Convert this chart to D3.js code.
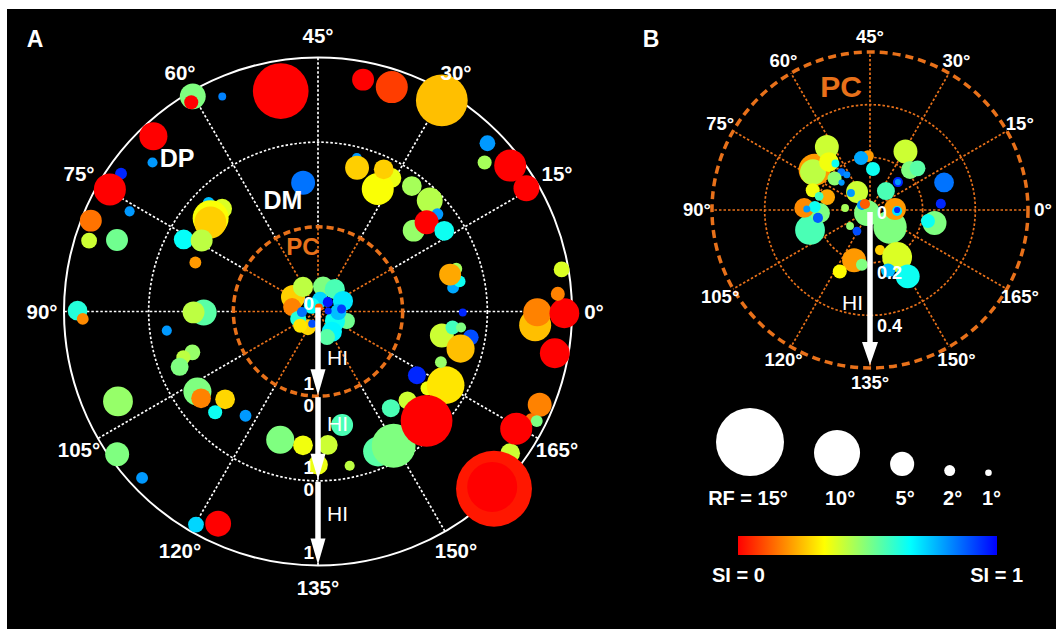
<!DOCTYPE html>
<html>
<head>
<meta charset="utf-8">
<script src="https://cdn.jsdelivr.net/npm/d3@7"></script>
<style>
    body { margin: 0; background: #fff; }
    svg { display: block; font-family: "Liberation Sans", Arial, sans-serif; }
</style>
</head>
<body>
<div id="chart"></div>
<script>

// each cell: [orientation (deg), HI, RF (deg), SI]
const dpCells = [
    [49.8, 0.64, 12.2, 0], [60.1, 0.94, 5.4, 0.5], [60.6, 0.89, 2.7, 0], [57, 0.78, 1.3, 0.83],
    [66.6, 0.84, 5.9, 0], [69, 0.63, 1.8, 0.8], [72.5, 0.84, 2.2, 0.95], [74.8, 0.85, 6.8, 0],
    [76, 0.52, 1.8, 0.8], [79.1, 0.89, 4.5, 0.15], [81.4, 0.83, 3.1, 0.4], [80.2, 0.52, 4.5, 0.52],
    [89.9, 0.84, 4.0, 0.62], [90.9, 0.78, 2.2, 0.18], [102.1, 0.59, 6.3, 0.47], [107.7, 0.91, 4.95, 0.5],
    [111.7, 0.86, 2.2, 0.8], [120.1, 0.90, 3.1, 0.72], [122.4, 0.77, 5.4, 0], [161.8, 0.82, 4.0, 0.4],
    [157.4, 0.95, 16.8, 0.03], [157.4, 0.92, 10.9, 0], [168.6, 0.84, 4.95, 0.17], [166.6, 0.82, 2.2, 0.15],
    [166.7, 0.89, 2.2, 0.5], [164.7, 0.72, 6.8, 0], [175, 0.84, 6.3, 0], [178.2, 0.57, 6.8, 0.25],
    [179.9, 0.59, 5.9, 0.17], [179.8, 0.91, 6.3, 0], [2.1, 0.84, 2.7, 0.17], [4.9, 0.92, 3.1, 0.38],
    [15.3, 0.86, 5.4, 0], [18.6, 0.85, 6.8, 0], [20.9, 0.64, 2.7, 0.45], [22.4, 0.82, 3.1, 0.8],
    [29.8, 0.89, 11.3, 0.25], [35.9, 0.79, 6.8, 0.08], [39.5, 0.79, 4.5, 0]
]

const dmCells = [
    [48.3, 0.53, 4.95, 0.85], [67.6, 0.82, 2.2, 0.75], [66.5, 0.66, 4.0, 0.38], [69.5, 0.68, 7.7, 0.34],
    [70.2, 0.65, 6.8, 0.27], [75.9, 0.80, 4.0, 0.66], [74.3, 0.61, 4.5, 0.42], [79.1, 0.56, 2.2, 0.2],
    [90.25, 0.35, 5.4, 0.55], [90.2, 0.47, 4.5, 0.42], [93.6, 0.80, 1.8, 0.8], [99, 0.56, 3.1, 0.47],
    [99.4, 0.68, 2.7, 0.42], [100.9, 0.76, 3.6, 0.5], [106.8, 0.71, 5.9, 0.5], [108.3, 0.72, 4.0, 0.17],
    [111.7, 0.51, 4.0, 0.28], [112.2, 0.70, 2.7, 0.65], [117.6, 0.50, 2.2, 0.8], [126.8, 0.58, 5.9, 0.5],
    [131.8, 0.59, 4.0, 0.35], [137.1, 0.58, 4.0, 0.4], [135, 0.81, 4.0, 0.36], [141, 0.37, 4.5, 0.57],
    [140.8, 0.86, 1.8, 0.42], [146.6, 0.80, 6.3, 0.55], [149.7, 0.82, 9.5, 0.5], [153.5, 0.43, 3.6, 0.57],
    [157.6, 0.49, 3.6, 0.4], [162.5, 0.58, 2.7, 0.35], [165, 0.74, 8.1, 0.3], [157.4, 0.82, 11.3, 0],
    [163.6, 0.39, 3.6, 0.95], [168.8, 0.57, 2.2, 0.47], [174.5, 0.49, 4.95, 0.4], [176.6, 0.60, 2.7, 0.58],
    [176.8, 0.70, 1.8, 0.5], [175.2, 0.83, 3.1, 0.9], [172.7, 0.74, 5.9, 0.25], [179.8, 0.71, 1.3, 0.95],
    [8.6, 0.71, 2.2, 0.45], [5, 0.62, 2.2, 0.78], [6, 0.71, 2.2, 0.65], [7.8, 0.62, 4.5, 0.22],
    [37.9, 0.87, 1.8, 0.8], [30.6, 0.80, 4.0, 0.36], [32, 0.61, 6.8, 0.34], [37.4, 0.76, 4.95, 0.27],
    [32.6, 0.85, 4.0, 0.27], [26.6, 0.85, 4.0, 0.45], [22.4, 0.86, 5.4, 0.43], [19.6, 0.82, 2.2, 0.8],
    [20.1, 0.48, 4.5, 0.47], [19.7, 0.66, 4.95, 0], [16.3, 0.77, 4.0, 0.65]
]

const pcCells = [
    [75, 0.34, 5.0, 0.27], [85.1, 0.31, 3.6, 0.17], [60.7, 0.34, 4.1, 0.42], [39.2, 0.30, 4.1, 0.5],
    [26.5, 0.33, 4.1, 0.57], [11.4, 0.32, 4.1, 0.7], [170.9, 0.36, 3.15, 0.52], [165.4, 0.23, 4.1, 0.65],
    [152.2, 0.29, 4.1, 0.68], [144.7, 0.32, 3.15, 0.55], [118.6, 0.22, 3.15, 0.28], [100.3, 0.25, 3.15, 0.62],
    [40, 0.14, 3.15, 0.72], [179.3, 0.24, 3.15, 0.75], [68.8, 0.10, 3.15, 0.66], [109.4, 0.27, 2.7, 0.3],
    [3, 0.28, 1.55, 0.92], [91, 0.19, 1.8, 0.85], [122.2, 0.16, 1.3, 0.9], [21.8, 0.16, 1.8, 0.97],
    [1.4, 0.12, 1.1, 0.95], [38.7, 0.05, 1.3, 0.12]
]

const pcZoomCells = [
    [72, 0.26, 6.8, 0.2], [62.2, 0.29, 4.95, 0.4], [73.2, 0.26, 5.4, 0.42], [65.3, 0.24, 4.0, 0.35],
    [63.3, 0.22, 1.3, 0.65], [63.6, 0.18, 1.3, 0.85], [61.7, 0.16, 1.1, 0.82], [69.2, 0.18, 2.7, 0.48],
    [68, 0.15, 0.9, 0.8], [81.6, 0.17, 3.1, 0.22], [80.5, 0.23, 2.7, 0.35], [82.5, 0.20, 1.5, 0.58],
    [99.2, 0.24, 6.3, 0.57], [91.7, 0.19, 4.0, 0.5], [89.1, 0.25, 4.0, 0.18], [88.4, 0.21, 2.2, 0.65],
    [89.5, 0.24, 1.1, 0.8], [94.3, 0.20, 1.8, 0.88], [62.9, 0.084, 4.5, 0.4], [69.1, 0.097, 1.3, 0.8],
    [87.7, 0.095, 1.3, 0.45], [109.3, 0.097, 1.3, 0.48], [119.1, 0.094, 1.5, 0.9], [112.5, 0.016, 5.4, 0.5],
    [74, 0.036, 1.8, 0.8], [64.9, 0.03, 1.8, 0.12], [46.1, 0.205, 2.2, 0.2], [49.9, 0.20, 2.7, 0.78],
    [42.9, 0.156, 2.7, 0.65], [25, 0.094, 3.6, 0.57], [29.4, 0.26, 4.95, 0.4], [22.5, 0.215, 3.6, 0.5],
    [20.6, 0.24, 3.1, 0.55], [22.5, 0.15, 1.8, 0.95], [22.5, 0.15, 0.9, 0.8], [10.2, 0.30, 4.0, 0.85],
    [2.5, 0.27, 1.8, 0.95], [159.8, 0.10, 7.1, 0.5], [1.1, 0.095, 4.5, 0.2], [178.9, 0.103, 1.8, 0.7],
    [0, 0.103, 0.9, 0.95], [174.3, 0.25, 4.95, 0.5], [174.6, 0.224, 2.7, 0.65], [142, 0.157, 1.8, 0.27],
    [150, 0.206, 6.3, 0.38], [143.3, 0.24, 2.7, 0.75], [149.8, 0.29, 4.95, 0.65], [126.2, 0.20, 4.95, 0.2],
    [130.8, 0.21, 2.2, 0.5], [121.9, 0.26, 2.7, 0.33]
]

const oriTicks = d3.range(0, 180, 15)
const hiTicksB = [0, 0.2, 0.4]
const ringTicksB = [0.2, 0.4]
const rfLegend = [15, 10, 5, 2, 1]
const siStops = [0, 1 / 3, 2 / 3, 1]
const siColors = ['#ff0000', '#ffff00', '#00ffff', '#0000ff']

const width = 1056
const height = 629
const orange = '#e8711a'

const svg = d3.select('#chart')
    .append('svg')
    .attr('width', width)
    .attr('height', height)

svg.append('rect')
    .attr('x', 7)
    .attr('y', 9)
    .attr('width', width - 7)
    .attr('height', height - 9)
    .attr('fill', '#000')

// 0 deg at 3 o'clock, orientation doubled round the circle, counter-clockwise
const angle = d3.scaleLinear().domain([0, 180]).range([Math.PI / 2, Math.PI / 2 - 2 * Math.PI])
const size = d3.scaleLinear().domain([0, 15]).range([1.1, 34])
const color = d3.scaleLinear().domain(siStops).range(siColors)

const drawBubbles = (g, data, rad) => {
    g.append('g')
        .selectAll('circle')
        .data(data)
        .join('circle')
        .attr('cx', (d) => d3.pointRadial(angle(d[0]), rad(d))[0])
        .attr('cy', (d) => d3.pointRadial(angle(d[0]), rad(d))[1])
        .attr('r', (d) => size(d[2]))
        .attr('fill', (d) => color(d[3]))
}

const drawAngleLabels = (g, r, fontSize) => {
    g.append('g')
        .selectAll('text')
        .data(oriTicks)
        .join('text')
        .attr('x', (d) => d3.pointRadial(angle(d), r)[0])
        .attr('y', (d) => d3.pointRadial(angle(d), r)[1])
        .attr('dy', '0.35em')
        .attr('text-anchor', 'middle')
        .attr('fill', '#fff')
        .attr('font-weight', 'bold')
        .attr('font-size', fontSize)
        .text((d) => d + '°')
}

const arrow = (g, x, y0, y1, shaft, headW, headL) => {
    g.append('rect')
        .attr('x', x - shaft / 2)
        .attr('y', y0)
        .attr('width', shaft)
        .attr('height', y1 - y0 - headL + 1)
        .attr('fill', '#fff')
    g.append('path')
        .attr('d', `M${x - headW / 2},${y1 - headL}L${x + headW / 2},${y1 - headL}L${x},${y1}Z`)
        .attr('fill', '#fff')
}

const label = (g, x, y, txt, size, fill, weight, anchor) => {
    g.append('text')
        .attr('x', x)
        .attr('y', y)
        .attr('dy', '0.35em')
        .attr('text-anchor', anchor || 'middle')
        .attr('font-size', size)
        .attr('font-weight', weight || 'bold')
        .attr('fill', fill || '#fff')
        .text(txt)
}

// ---------- panel A ----------
const ctrA = svg.append('g').attr('transform', 'translate(318,311.5)')
const radA = d3.scaleLinear().domain([0, 3]).range([0, 254])

const spokesA = ctrA.append('g')
spokesA.selectAll('.in')
    .data(oriTicks)
    .join('line')
    .attr('x2', (d) => d3.pointRadial(angle(d), radA(1))[0])
    .attr('y2', (d) => d3.pointRadial(angle(d), radA(1))[1])
    .attr('stroke', orange)
    .attr('stroke-width', 1.7)
    .attr('stroke-dasharray', '2.5,2')
spokesA.selectAll('.out')
    .data(oriTicks)
    .join('line')
    .attr('x1', (d) => d3.pointRadial(angle(d), radA(1))[0])
    .attr('y1', (d) => d3.pointRadial(angle(d), radA(1))[1])
    .attr('x2', (d) => d3.pointRadial(angle(d), radA(3))[0])
    .attr('y2', (d) => d3.pointRadial(angle(d), radA(3))[1])
    .attr('stroke', '#fff')
    .attr('stroke-width', 1.7)
    .attr('stroke-dasharray', '2.5,2')

ctrA.append('circle').attr('r', radA(3)).attr('fill', 'none')
    .attr('stroke', '#fff').attr('stroke-width', 2)
ctrA.append('circle').attr('r', radA(2)).attr('fill', 'none')
    .attr('stroke', '#fff').attr('stroke-width', 1.7).attr('stroke-dasharray', '2.5,2')
ctrA.append('circle').attr('r', radA(1)).attr('fill', 'none')
    .attr('stroke', orange).attr('stroke-width', 3.5).attr('stroke-dasharray', '7,4')

drawBubbles(ctrA, dpCells, (d) => radA(2 + d[1]))
drawBubbles(ctrA, dmCells, (d) => radA(1 + d[1]))
drawBubbles(ctrA, pcCells, (d) => radA(d[1]))

// HI arrows, one per layer, along 135 deg
const hiLabelPos = [0.54, 0.32, 0.39]
d3.range(3).forEach((i) => {
    const y0 = radA(i) + (i ? 1 : -4)
    const y1 = radA(i + 1) - 1
    arrow(ctrA, 0, y0, y1, 5.5, 15, 26)
    label(ctrA, -4, i ? radA(i) + 9 : -8, '0', 19, '#fff', 'bold', 'end')
    label(ctrA, -4, radA(i + 1) - 13, '1', 19, '#fff', 'bold', 'end')
    label(ctrA, 9, radA(i + hiLabelPos[i]), 'HI', 21, '#fff', 'normal', 'start')
})

drawAngleLabels(ctrA, 276, 20.5)
label(svg, 35, 39, 'A', 23)
label(svg, 177, 158, 'DP', 25)
label(svg, 283, 200, 'DM', 25)
label(svg, 303, 247, 'PC', 24, orange)

// ---------- panel B (PC enlarged) ----------
const ctrB = svg.append('g').attr('transform', 'translate(870,210)')
const radB = d3.scaleLinear().domain([0, 0.6]).range([0, 158])

ctrB.append('g')
    .selectAll('line')
    .data(oriTicks)
    .join('line')
    .attr('x2', (d) => d3.pointRadial(angle(d), radB(0.6))[0])
    .attr('y2', (d) => d3.pointRadial(angle(d), radB(0.6))[1])
    .attr('stroke', orange)
    .attr('stroke-width', 1.7)
    .attr('stroke-dasharray', '2.5,2')

ctrB.append('g')
    .selectAll('circle')
    .data(ringTicksB)
    .join('circle')
    .attr('r', (d) => radB(d))
    .attr('fill', 'none')
    .attr('stroke', orange)
    .attr('stroke-width', 1.7)
    .attr('stroke-dasharray', '2.5,2')
ctrB.append('circle').attr('r', radB(0.6)).attr('fill', 'none')
    .attr('stroke', orange).attr('stroke-width', 3.5).attr('stroke-dasharray', '8,5')

drawBubbles(ctrB, pcZoomCells, (d) => radB(d[1]))

arrow(ctrB, 0, 2, radB(0.6) - 3, 5.5, 16, 23)
hiTicksB.forEach((v) => {
    label(ctrB, 7, radB(v) + (v ? 10 : 3), v === 0 ? '0' : d3.format('.1f')(v), 18, '#fff', 'bold', 'start')
})
label(ctrB, -7, 93, 'HI', 21, '#fff', 'normal', 'end')

drawAngleLabels(ctrB, 173, 18.5)
label(svg, 651, 39, 'B', 23)
label(svg, 841, 86, 'PC', 30, orange)

// ---------- legend ----------
const legend = svg.append('g')
let lx = 750
const legendX = rfLegend.map((rf, i) => {
    if (i > 0) lx += size(rfLegend[i - 1]) + 30 + size(rf)
    return lx
})
legend.selectAll('circle')
    .data(rfLegend)
    .join('circle')
    .attr('cx', (d, i) => legendX[i])
    .attr('cy', (d) => 476 - size(d))
    .attr('r', (d) => size(d))
    .attr('fill', '#fff')
legend.selectAll('text')
    .data(rfLegend)
    .join('text')
    .attr('x', (d, i) => legendX[i] + (i ? 3 : -2))
    .attr('y', 498)
    .attr('dy', '0.35em')
    .attr('text-anchor', 'middle')
    .attr('font-size', 20)
    .attr('font-weight', 'bold')
    .attr('fill', '#fff')
    .text((d, i) => (i ? '' : 'RF = ') + d + '°')

const grad = svg.append('defs')
    .append('linearGradient')
    .attr('id', 'si')
grad.selectAll('stop')
    .data(siStops)
    .join('stop')
    .attr('offset', (d) => d)
    .attr('stop-color', (d) => color(d))

svg.append('rect')
    .attr('x', 738)
    .attr('y', 536)
    .attr('width', 259)
    .attr('height', 19)
    .attr('fill', 'url(#si)')

label(svg, 712, 575, 'SI = 0', 20, '#fff', 'bold', 'start')
label(svg, 1023, 575, 'SI = 1', 20, '#fff', 'bold', 'end')

</script>
</body>
</html>
